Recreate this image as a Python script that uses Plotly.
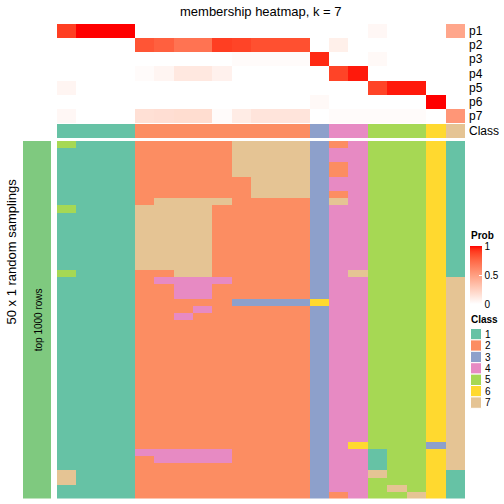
import plotly.graph_objects as go

# ---------------- data ----------------
class_labels = ["1", "2", "3", "4", "5", "6", "7"]
class_colors = ["#66C2A5", "#FC8D62", "#8DA0CB", "#E78AC3", "#A6D854", "#FFD92F", "#E5C494"]

prob_names = ["p1", "p2", "p3", "p4", "p5", "p6", "p7"]
# membership probabilities per sample (21 samples)
p1 = [0.90, 1.0, 1.0, 1.0, 0, 0, 0, 0, 0, 0, 0, 0, 0, 0, 0, 0, 0.04, 0, 0, 0, 0.46]
p2 = [0, 0, 0, 0, 0.82, 0.78, 0.70, 0.70, 0.90, 0.88, 0.84, 0.84, 0.84, 0, 0.08, 0, 0, 0, 0, 0, 0]
p3 = [0, 0, 0, 0, 0, 0, 0, 0, 0, 0.02, 0.02, 0.02, 0.02, 0.95, 0, 0, 0.03, 0, 0, 0, 0]
p4 = [0, 0, 0, 0, 0.02, 0.05, 0.12, 0.12, 0.07, 0, 0, 0, 0, 0, 0.88, 0.97, 0, 0, 0, 0, 0]
p5 = [0.05, 0, 0, 0, 0, 0, 0, 0, 0, 0, 0, 0, 0, 0, 0, 0, 0.88, 0.97, 0.97, 0, 0]
p6 = [0, 0, 0, 0, 0, 0, 0, 0, 0, 0, 0, 0, 0, 0.03, 0, 0, 0, 0, 0, 1.0, 0]
p7 = [0.04, 0, 0, 0, 0.16, 0.17, 0.18, 0.18, 0.02, 0.10, 0.14, 0.14, 0.14, 0, 0.02, 0.02, 0.02, 0.02, 0.02, 0, 0.54]

sample_class = [1, 1, 1, 1, 2, 2, 2, 2, 2, 2, 2, 2, 2, 3, 4, 4, 5, 5, 5, 6, 7]

# class assigned in each of the 50 random samplings (rows) for each sample (columns)
samplings = [
    "511122222777732455561",
    "111122222777734455561",
    "111122222777734455561",
    "111122222777732455561",
    "111122222777732455561",
    "111122222277734455561",
    "111122222277734455561",
    "111122222277732455561",
    "111127777222237455561",
    "511177772222234455561",
    "111177772222234455561",
    "111177772222234455561",
    "111177772222234455561",
    "111177772222234455561",
    "111177772222234455561",
    "111177772222234455561",
    "111177772222234455561",
    "111177772222234455561",
    "511122772222234755561",
    "111124444222234455567",
    "111122442222234455567",
    "111122442222234455567",
    "111122222333364455567",
    "111122242222234455567",
    "111122422222234455567",
    "111122222222234455567",
    "111122222222234455567",
    "111122222222234455567",
    "111122222222234455567",
    "111122222222234455567",
    "111122222222234455567",
    "111122222222234455567",
    "111122222222234455567",
    "111122222222234455567",
    "111122222222234455567",
    "111122222222234455567",
    "111122222222234455567",
    "111122222222234455567",
    "111122222222234455567",
    "111122222222234455567",
    "111122222222234455567",
    "111122222222234455567",
    "111122222222234655537",
    "111144444222234415567",
    "111124444222234415567",
    "111122222222234415567",
    "711122222222234475561",
    "711122222222234455561",
    "111122222222234457561",
    "111122222222232455761",
]

row_title = "top 1000 rows"
side_title = "50 x 1 random samplings"
main_title = "membership heatmap, k = 7"

# ---------------- helpers ----------------
W = H = 504


def xf(px):
    return px / W


def yf(py):
    return 1 - py / H


def hex2rgb(h):
    h = h.lstrip("#")
    return [int(h[i:i + 2], 16) for i in (0, 2, 4)]


def rgb2lab(rgb):
    def lin(c):
        c = c / 255
        return c / 12.92 if c <= 0.04045 else ((c + 0.055) / 1.055) ** 2.4
    r, g, b = [lin(c) for c in rgb]
    X = (0.4124 * r + 0.3576 * g + 0.1805 * b) / 0.95047
    Y = (0.2126 * r + 0.7152 * g + 0.0722 * b)
    Z = (0.0193 * r + 0.1192 * g + 0.9505 * b) / 1.08883

    def f(t):
        return t ** (1 / 3) if t > 0.008856 else 7.787 * t + 16 / 116
    fx, fy, fz = f(X), f(Y), f(Z)
    return [116 * fy - 16, 500 * (fx - fy), 200 * (fy - fz)]


def lab2rgb(lab):
    L, a, b = lab
    fy = (L + 16) / 116
    fx = fy + a / 500
    fz = fy - b / 200

    def finv(f):
        return f ** 3 if f ** 3 > 0.008856 else (f - 16 / 116) / 7.787
    X, Y, Z = 0.95047 * finv(fx), finv(fy), 1.08883 * finv(fz)
    r = 3.2406 * X - 1.5372 * Y - 0.4986 * Z
    g = -0.9689 * X + 1.8758 * Y + 0.0415 * Z
    bb = 0.0557 * X - 0.2040 * Y + 1.0570 * Z

    def gam(c):
        c = 12.92 * c if c <= 0.0031308 else 1.055 * c ** (1 / 2.4) - 0.055
        return int(round(max(0, min(1, c)) * 255))
    return "rgb(%d,%d,%d)" % (gam(r), gam(g), gam(bb))


lab_w = rgb2lab(hex2rgb("#FFFFFF"))
lab_r = rgb2lab(hex2rgb("#FF0000"))
prob_scale = []
for i in range(21):
    t = i / 20
    prob_scale.append([t, lab2rgb([lab_w[k] + (lab_r[k] - lab_w[k]) * t for k in range(3)])])

# discrete class colorscale (values 1..7, zmin .5 zmax 7.5)
class_scale = []
n = len(class_colors)
for i, c in enumerate(class_colors):
    class_scale.append([i / n, c])
    class_scale.append([(i + 1) / n, c])

FONT = "Liberation Sans, Arial, Helvetica, sans-serif"

# ---------------- layout positions (px) ----------------
X0, X1 = 57, 465
MAIN_T, MAIN_B = 141, 498.5
PROB_T, PROB_B = 24, 123
CLS_T, CLS_B = 124, 138

ncol = len(sample_class)
main_z = [[int(ch) for ch in row] for row in samplings]
prob_z = [p1, p2, p3, p4, p5, p6, p7]

fig = go.Figure()

fig.add_trace(go.Heatmap(
    z=main_z, x=list(range(ncol)), y=list(range(len(main_z))),
    colorscale=class_scale, zmin=0.5, zmax=7.5, showscale=False,
    xaxis="x", yaxis="y", hoverinfo="skip"))

fig.add_trace(go.Heatmap(
    z=prob_z, x=list(range(ncol)), y=list(range(len(prob_z))),
    colorscale=prob_scale, zmin=0, zmax=1, showscale=True,
    xaxis="x2", yaxis="y2", hoverinfo="skip",
    colorbar=dict(
        x=xf(470), xanchor="left", xpad=0, ypad=0,
        y=yf(275), yanchor="middle",
        lenmode="pixels", len=58, thickness=12,
        outlinewidth=0,
        tickmode="array", tickvals=[0, 0.5, 1], ticktext=["0", "0.5", "1"],
        ticks="inside", ticklen=3, tickcolor="white",
        tickfont=dict(size=10, family=FONT, color="black"),
    )))

fig.add_trace(go.Heatmap(
    z=[sample_class], x=list(range(ncol)), y=[0],
    colorscale=class_scale, zmin=0.5, zmax=7.5, showscale=False,
    xaxis="x3", yaxis="y3", hoverinfo="skip"))

hid = dict(visible=False, showgrid=False, zeroline=False, fixedrange=True)

fig.update_layout(
    width=W, height=H, autosize=False,
    margin=dict(l=0, r=0, t=0, b=0, pad=0),
    paper_bgcolor="white", plot_bgcolor="white",
    showlegend=False,
    xaxis=dict(domain=[xf(X0), xf(X1)], range=[-0.5, ncol - 0.5], anchor="y", **hid),
    yaxis=dict(domain=[yf(MAIN_B), yf(MAIN_T)], range=[len(main_z) - 0.5, -0.5], anchor="x", **hid),
    xaxis2=dict(domain=[xf(X0), xf(X1)], range=[-0.5, ncol - 0.5], anchor="y2", **hid),
    yaxis2=dict(domain=[yf(PROB_B), yf(PROB_T)], range=[len(prob_z) - 0.5, -0.5], anchor="x2", **hid),
    xaxis3=dict(domain=[xf(X0), xf(X1)], range=[-0.5, ncol - 0.5], anchor="y3", **hid),
    yaxis3=dict(domain=[yf(CLS_B), yf(CLS_T)], range=[0.5, -0.5], anchor="x3", **hid),
)

shapes = []
annotations = []

# left block bar
shapes.append(dict(type="rect", xref="paper", yref="paper",
                   x0=xf(23), x1=xf(51), y0=yf(MAIN_B), y1=yf(MAIN_T),
                   fillcolor="#7FC97F", line=dict(width=0), layer="below"))
annotations.append(dict(text=row_title, xref="paper", yref="paper",
                        x=xf(38.5), y=yf((MAIN_T + MAIN_B) / 2), textangle=-90,
                        showarrow=False, font=dict(size=10, family=FONT, color="black"),
                        xanchor="center", yanchor="middle"))
annotations.append(dict(text=side_title, xref="paper", yref="paper",
                        x=xf(11), y=yf(251.5), textangle=-90,
                        showarrow=False, font=dict(size=13, family=FONT, color="black"),
                        xanchor="center", yanchor="middle"))
annotations.append(dict(text=main_title, xref="paper", yref="paper",
                        x=xf(261), y=yf(11.5), showarrow=False,
                        font=dict(size=13, family=FONT, color="black"),
                        xanchor="center", yanchor="middle"))

# annotation row names
row_h = (PROB_B - PROB_T) / len(prob_names)
for i, nm in enumerate(prob_names):
    annotations.append(dict(text=nm, xref="paper", yref="paper",
                            x=xf(467), y=yf(PROB_T + row_h * (i + 0.5)), showarrow=False,
                            font=dict(size=12, family=FONT, color="black"),
                            xanchor="left", yanchor="middle"))
annotations.append(dict(text="Class", xref="paper", yref="paper",
                        x=xf(467), y=yf((CLS_T + CLS_B) / 2), showarrow=False,
                        font=dict(size=12, family=FONT, color="black"),
                        xanchor="left", yanchor="middle"))

# legend titles
annotations.append(dict(text="<b>Prob</b>", xref="paper", yref="paper",
                        x=xf(469), y=yf(235), showarrow=False,
                        font=dict(size=10, family=FONT, color="black"),
                        xanchor="left", yanchor="middle"))
annotations.append(dict(text="<b>Class</b>", xref="paper", yref="paper",
                        x=xf(469), y=yf(319.5), showarrow=False,
                        font=dict(size=10, family=FONT, color="black"),
                        xanchor="left", yanchor="middle"))

# class legend keys
LEG_T = 328.5
STEP = 11.4
for i, (lab, col) in enumerate(zip(class_labels, class_colors)):
    t = LEG_T + STEP * i
    shapes.append(dict(type="rect", xref="paper", yref="paper",
                       x0=xf(470.5), x1=xf(481.5), y0=yf(t + STEP), y1=yf(t),
                       fillcolor=col, line=dict(width=1, color="white")))
    annotations.append(dict(text=lab, xref="paper", yref="paper",
                            x=xf(483), y=yf(t + STEP / 2), showarrow=False,
                            font=dict(size=10, family=FONT, color="black"),
                            xanchor="left", yanchor="middle"))

fig.update_layout(shapes=shapes, annotations=annotations)

fig.write_html(
    "out.html",
    config={"displayModeBar": False, "staticPlot": True},
    post_script="document.body.style.margin='0';document.body.style.padding='0';"
                "document.documentElement.style.overflow='hidden';",
)
